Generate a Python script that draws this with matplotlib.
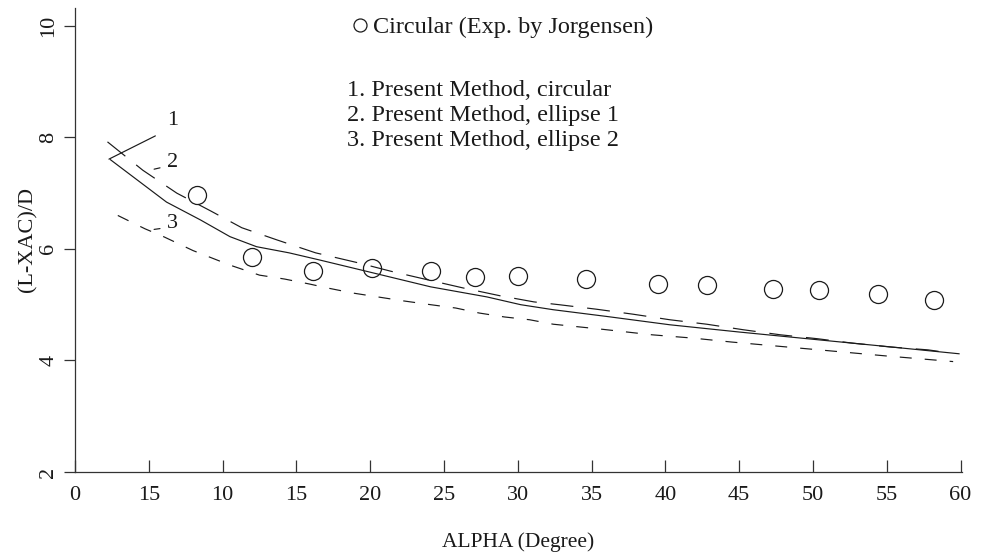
import matplotlib
matplotlib.use("Agg")
import matplotlib.pyplot as plt

plt.rcParams['font.family'] = ['Liberation Serif', 'DejaVu Serif']
plt.rcParams['lines.scale_dashes'] = False

# ---- data ----
exp_alpha = [8.3, 12.0, 16.1, 20.1, 24.1, 27.1, 30.0, 34.6, 39.5, 42.8, 47.3, 50.4, 54.4, 58.2]
exp_value = [6.97, 5.86, 5.61, 5.66, 5.61, 5.50, 5.52, 5.46, 5.37, 5.35, 5.28, 5.26, 5.19, 5.09]

m1_alpha = [2.4, 4.0, 6.2, 8.5, 10.5, 12.3, 14.5, 16.6, 20.2, 24.1, 27.9, 30.2, 32.4, 36.0, 40.3, 45.0, 50.0, 55.0, 59.9]
m1_value = [7.60, 7.28, 6.84, 6.52, 6.22, 6.04, 5.93, 5.80, 5.57, 5.32, 5.14, 5.00, 4.91, 4.79, 4.64, 4.51, 4.38, 4.25, 4.12]

m2_alpha = [2.2, 4.6, 6.9, 9.2, 11.3, 13.7, 16.3, 19.2, 21.4, 24.0, 26.3, 28.8, 31.1, 32.8, 35.3, 37.8, 40.3, 42.8, 45.3, 47.8, 50.3, 52.7, 55.3, 57.8, 58.6]
m2_value = [7.92, 7.41, 7.00, 6.68, 6.38, 6.16, 5.93, 5.75, 5.60, 5.44, 5.30, 5.16, 5.05, 5.00, 4.92, 4.83, 4.73, 4.65, 4.55, 4.46, 4.39, 4.31, 4.24, 4.19, 4.16]

m3_alpha = [2.9, 4.75, 6.0, 8.0, 10.5, 12.5, 14.2, 15.9, 17.1, 18.8, 20.5, 22.2, 24.1, 25.8, 27.4, 29.1, 30.8, 32.4, 35.7, 39.1, 41.9, 44.5, 50.0, 55.0, 59.5]
m3_value = [6.60, 6.36, 6.22, 5.97, 5.71, 5.53, 5.46, 5.37, 5.30, 5.21, 5.14, 5.07, 5.00, 4.94, 4.85, 4.78, 4.73, 4.65, 4.56, 4.46, 4.40, 4.33, 4.20, 4.08, 3.98]

x_ticks = [0, 5, 10, 15, 20, 25, 30, 35, 40, 45, 50, 55, 60]
x_tick_labels = ["0", "15", "10", "15", "20", "25", "30", "35", "40", "45", "50", "55", "60"]
y_ticks = [2, 4, 6, 8, 10]
y_tick_labels = ["2", "4", "6", "8", "10"]

legend_lines = ["1. Present Method, circular",
                "2. Present Method, ellipse 1",
                "3. Present Method, ellipse 2"]

# curve labels: (text, label position, leader-line target)
curve_labels = [("1", (6.6, 8.30), (2.3, 7.61)),
                ("2", (6.6, 7.55), (5.36, 7.43)),
                ("3", (6.6, 6.45), (5.36, 6.35))]

# ---- figure ----
W, H = 983, 560
fig = plt.figure(figsize=(W / 100, H / 100), dpi=100)
ax = fig.add_axes([75 / W, 1 - 472 / H, (962 - 75) / W, (472 - 8) / H])

col = '#1a1a1a'
lw = 0.85

ax.plot(m1_alpha, m1_value, color=col, lw=lw, linestyle='-')
l2, = ax.plot(m2_alpha, m2_value, color=col, lw=lw)
l2.set_dashes((16.5, 10))
l3, = ax.plot(m3_alpha, m3_value, color=col, lw=lw)
l3.set_dashes((8.6, 9.4))
ax.plot(exp_alpha, exp_value, linestyle='none', marker='o', ms=13,
        mfc='none', mec=col, mew=0.9, label='Circular (Exp. by Jorgensen)')

for i, (txt, pos, tgt) in enumerate(curve_labels):
    ax.annotate(txt, xy=tgt, xytext=pos, fontsize=16, ha='center', va='center',
                color=col,
                arrowprops=dict(arrowstyle='-', color=col, lw=lw,
                                shrinkA=7 if i == 0 else 3, shrinkB=0,
                                relpos=(0, 0) if i == 0 else (0, 0.3)))

ax.set_xlim(0, 60.1)
ax.set_ylim(2, 10.32)
ax.set_xticks(x_ticks)
ax.set_xticklabels(x_tick_labels)
ax.set_yticks(y_ticks)
ax.set_yticklabels(y_tick_labels, rotation=90, va='center')

for s in ['top', 'right']:
    ax.spines[s].set_visible(False)
for s in ['left', 'bottom']:
    ax.spines[s].set_linewidth(0.9)
    ax.spines[s].set_color('#333333')

ax.tick_params(axis='x', direction='in', length=9, width=0.9, color='#333333',
               labelsize=16, pad=10, labelcolor=col)
ax.tick_params(axis='y', direction='out', length=8, width=0.9, color='#333333',
               labelsize=16, pad=4, labelcolor=col)

ax.set_xlabel('ALPHA (Degree)', fontsize=15.5, color=col, labelpad=20)
ax.set_ylabel('(L-XAC)/D', fontsize=16, color=col)
ax.yaxis.set_label_coords(-38 / (962 - 75), 0.5)

leg = ax.legend(loc='center left', bbox_to_anchor=(350 / W, 1 - 27 / H),
                bbox_transform=fig.transFigure, frameon=False, fontsize=17.5,
                handlelength=0.8, handletextpad=0.15, borderpad=0,
                borderaxespad=0, markerscale=0.72)
for t in leg.get_texts():
    t.set_color(col)

for i, line in enumerate(legend_lines):
    fig.text(347 / W, 1 - (96 + 25 * i) / H, line, fontsize=17.5, va='baseline',
             ha='left', color=col)

fig.savefig('out.png', dpi=100)
